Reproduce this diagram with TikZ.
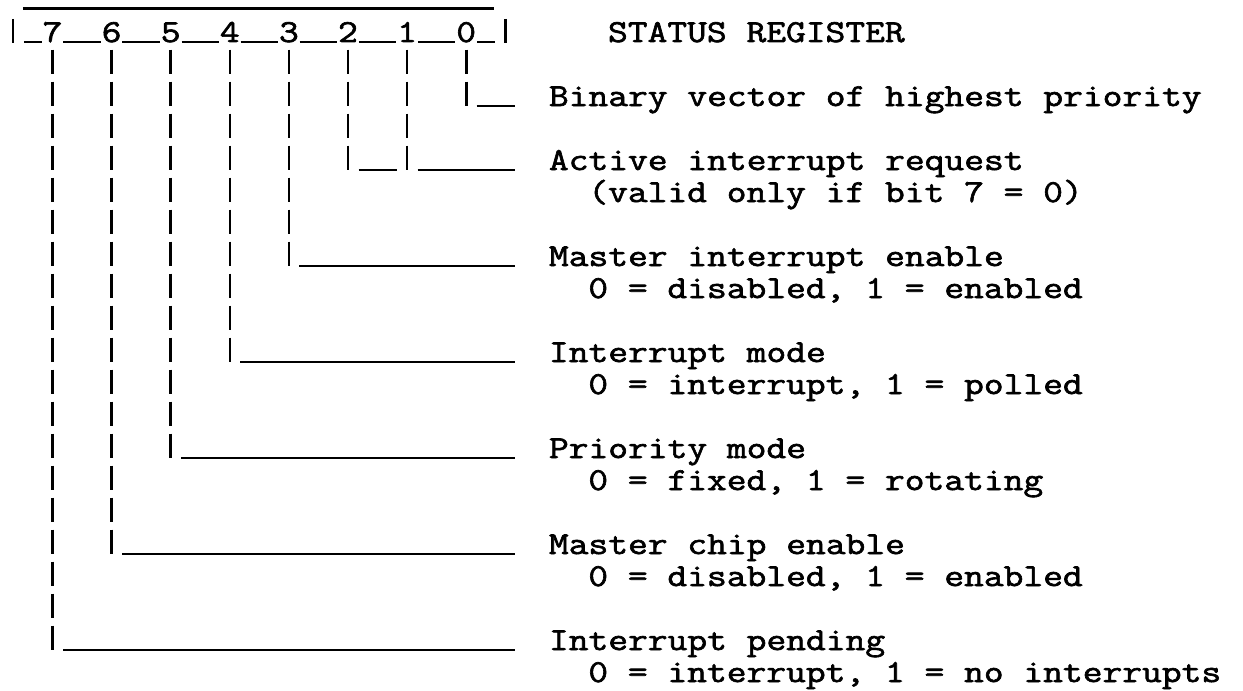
\documentclass[tikz,border=0pt]{standalone}
\usepackage{fontspec}
\newfontfamily\typefont[FakeStretch=1.2, FakeBold=2]{Latin Modern Mono}
\usetikzlibrary{positioning}

\begin{document}
\frenchspacing
\begin{tikzpicture}[x=19.7pt, y=-32pt,
  every node/.style={font=\typefont\fontsize{32pt}{32pt}\selectfont, inner sep=0pt, outer sep=0pt},
  bit/.style={anchor=base}, lbl/.style={anchor=base west},
  uline/.style={line width=2.6pt},
  bar/.style={line width=2.6pt, dash pattern=on 24pt off 8pt}]
\useasboundingbox[fill=white] (-0.165,-1.3125) rectangle (62.93,20.25);
% register with bit numbers
\node[bit] (b7) at (2.5,0) {7};
\node[bit] (b6) at (5.5,0) {6};
\node[bit] (b5) at (8.5,0) {5};
\node[bit] (b4) at (11.5,0) {4};
\node[bit] (b3) at (14.5,0) {3};
\node[bit] (b2) at (17.5,0) {2};
\node[bit] (b1) at (20.5,0) {1};
\node[bit] (b0) at (23.5,0) {0};
\draw[uline] (1,-1.05) -- (24.9,-1.05);
\draw[uline] (0.5,-0.72) -- (0.5,0.02) (25.5,-0.72) -- (25.5,0.02);
\draw[uline] (1.05,0) -- (1.95,0) (3.05,0) -- (4.95,0) (6.05,0) -- (7.95,0) (9.05,0) -- (10.95,0)
  (12.05,0) -- (13.95,0) (15.05,0) -- (16.95,0) (18.05,0) -- (19.95,0) (21.05,0) -- (22.95,0) (24.05,0) -- (24.95,0);
% field descriptions
\node[lbl] (title) at (30.7,0) {STATUS REGISTER};
\node[lbl] (l0) at (27.7,2) {Binary vector of highest priority};
\node[lbl] (l12) at (27.7,4) {Active interrupt request};
\node[lbl] (l12b) at (29.7,5) {(valid only if bit 7 = 0)};
\node[lbl] (l3) at (27.7,7) {Master interrupt enable};
\node[lbl] (l3b) at (29.7,8) {0 = disabled, 1 = enabled};
\node[lbl] (l4) at (27.7,10) {Interrupt mode};
\node[lbl] (l4b) at (29.7,11) {0 = interrupt, 1 = polled};
\node[lbl] (l5) at (27.7,13) {Priority mode};
\node[lbl] (l5b) at (29.7,14) {0 = fixed, 1 = rotating};
\node[lbl] (l6) at (27.7,16) {Master chip enable};
\node[lbl] (l6b) at (29.7,17) {0 = disabled, 1 = enabled};
\node[lbl] (l7) at (27.7,19) {Interrupt pending};
\node[lbl] (l7b) at (29.7,20) {0 = interrupt, 1 = no interrupts};
% leader lines from each bit
\draw[bar] (b0.base) ++(0,0.24) -- (b0.base |- l0.base);
\draw[bar] (b1.base) ++(0,0.24) -- (b1.base |- l12.base);
\draw[bar] (b2.base) ++(0,0.24) -- (b2.base |- l12.base);
\draw[bar] (b3.base) ++(0,0.24) -- (b3.base |- l3.base);
\draw[bar] (b4.base) ++(0,0.24) -- (b4.base |- l4.base);
\draw[bar] (b5.base) ++(0,0.24) -- (b5.base |- l5.base);
\draw[bar] (b6.base) ++(0,0.24) -- (b6.base |- l6.base);
\draw[bar] (b7.base) ++(0,0.24) -- (b7.base |- l7.base);
\draw[uline] ([xshift=10.5pt]b0.base |- l0.base) -- ([xshift=-33.5pt]l0.base west);
\draw[uline] ([xshift=10.5pt]b2.base |- l12.base) -- ([xshift=-10.5pt]b1.base |- l12.base);
\draw[uline] ([xshift=10.5pt]b1.base |- l12.base) -- ([xshift=-33.5pt]l12.base west);
\draw[uline] ([xshift=10.5pt]b3.base |- l3.base) -- ([xshift=-33.5pt]l3.base west);
\draw[uline] ([xshift=10.5pt]b4.base |- l4.base) -- ([xshift=-33.5pt]l4.base west);
\draw[uline] ([xshift=10.5pt]b5.base |- l5.base) -- ([xshift=-33.5pt]l5.base west);
\draw[uline] ([xshift=10.5pt]b6.base |- l6.base) -- ([xshift=-33.5pt]l6.base west);
\draw[uline] ([xshift=10.5pt]b7.base |- l7.base) -- ([xshift=-33.5pt]l7.base west);
\end{tikzpicture}
\end{document}
